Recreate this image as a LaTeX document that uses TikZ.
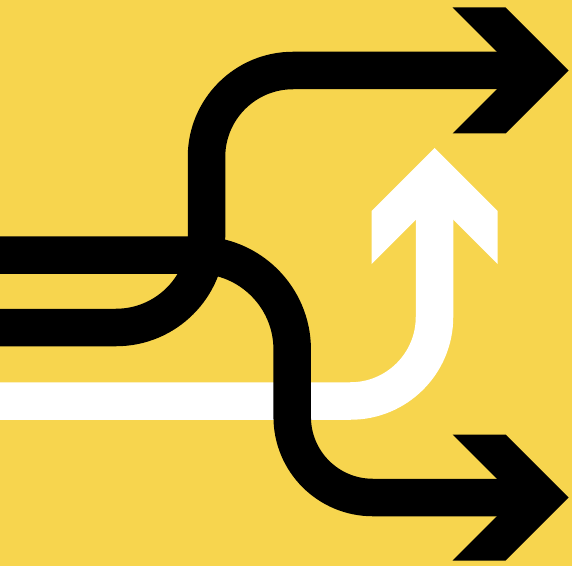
\documentclass[tikz,border=0pt]{standalone}
\definecolor{bgyellow}{RGB}{247,213,78}
\begin{document}
\begin{tikzpicture}[x=1pt,y=1pt,
  band/.style={line width=37.5pt, line cap=butt, line join=miter},
  blackband/.style={band, draw=black},
  whiteband/.style={band, draw=white}]
\useasboundingbox (0,0) rectangle (572,566);
\clip (0,0) rectangle (572,566);
\fill[bgyellow] (0,0) rectangle (572,566);
% white path with upward arrow
\draw[whiteband] (-5,165) -- (350.5,165) arc[start angle=-90, end angle=0, radius=84] -- (434.5,370);
\fill[white] (371.5,355) -- (434.5,418) -- (497.5,355) -- (497.5,302) -- (434.5,365) -- (371.5,302) -- cycle;
% lower-left band going up to top arrow
\draw[blackband] (-5,238.5) -- (116,238.5) arc[start angle=-90, end angle=0, radius=90.5] -- (206.5,409)
  arc[start angle=180, end angle=90, radius=86.5] -- (520,495.5);
\fill[black] (452.7,558.5) -- (505.5,558.5) -- (568.5,495.5) -- (505.5,432.5) -- (452.7,432.5) -- (515.5,495.5) -- cycle;
% upper-left band going down to bottom arrow
\draw[blackband] (-5,311) -- (197.7,311) arc[start angle=90, end angle=0, radius=94.5] -- (292.2,149)
  arc[start angle=180, end angle=270, radius=80.5] -- (520,68.5);
\fill[black] (452.7,131.5) -- (505.5,131.5) -- (568.5,68.5) -- (505.5,5.5) -- (452.7,5.5) -- (515.5,68.5) -- cycle;
\end{tikzpicture}
\end{document}
